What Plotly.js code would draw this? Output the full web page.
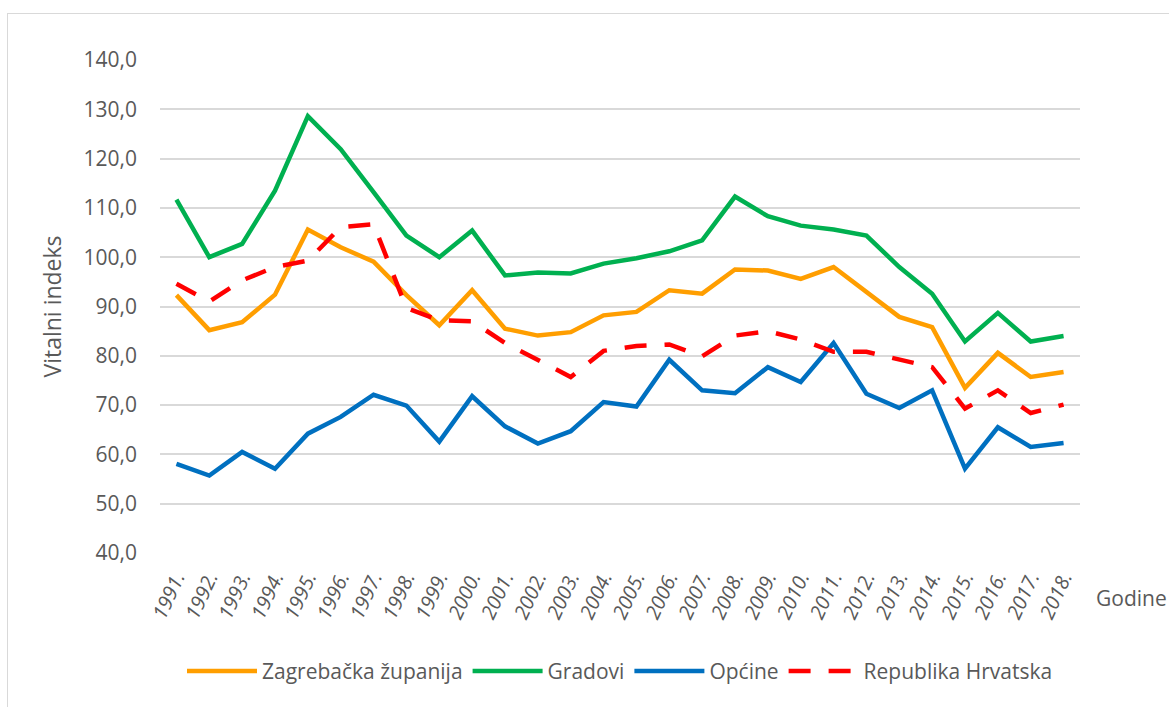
<!DOCTYPE html>
<html>
<head>
<meta charset="utf-8">
<script src="https://cdn.plot.ly/plotly-3.0.1.min.js"></script>
<style>
  html, body { margin: 0; padding: 0; background: #fff; }
  #frame { position: absolute; left: 7px; top: 13px; width: 1200px; height: 720px;
           border-left: 1.5px solid #d9d9d9; border-top: 1.5px solid #d9d9d9; pointer-events: none; }
  #chart { position: absolute; left: 0; top: 0; width: 1169px; height: 707px; }
</style>
</head>
<body>
<div id="chart"></div>
<div id="frame"></div>
<script>
const years = ["1991.","1992.","1993.","1994.","1995.","1996.","1997.","1998.","1999.","2000.",
  "2001.","2002.","2003.","2004.","2005.","2006.","2007.","2008.","2009.","2010.",
  "2011.","2012.","2013.","2014.","2015.","2016.","2017.","2018."];

const zagrebacka = [92.3,85.2,86.8,92.4,105.6,102.0,99.1,92.3,86.2,93.3,
  85.5,84.1,84.8,88.2,88.9,93.3,92.6,97.5,97.3,95.6,
  98.0,92.9,87.9,85.8,73.5,80.6,75.7,76.7];

const gradovi = [111.7,100.0,102.7,113.5,128.6,121.9,113.2,104.4,100.0,105.4,
  96.3,96.9,96.7,98.7,99.8,101.2,103.4,112.3,108.3,106.4,
  105.6,104.4,98.0,92.6,82.9,88.7,82.9,84.0];

const opcine = [58.1,55.7,60.5,57.1,64.2,67.6,72.1,69.9,62.6,71.8,
  65.7,62.2,64.7,70.6,69.7,79.2,73.0,72.4,77.7,74.7,
  82.6,72.3,69.4,73.0,57.1,65.5,61.5,62.3];

const hrvatska = [94.6,91.0,95.3,98.0,99.3,106.1,106.7,89.7,87.2,87.0,
  82.6,79.1,75.7,81.0,82.0,82.3,79.9,84.1,85.0,83.3,
  80.8,80.8,79.3,77.7,69.3,73.0,68.4,70.1];

const yTicks = [40,50,60,70,80,90,100,110,120,130,140];
const yTickText = yTicks.map(v => v.toFixed(1).replace('.', ','));

const font = "'Open Sans', 'Noto Sans', sans-serif";
const grey = '#595959';

const traces = [
  { name: 'Zagrebačka županija', y: zagrebacka, color: '#FF9E00', dash: 'solid' },
  { name: 'Gradovi', y: gradovi, color: '#00B050', dash: 'solid' },
  { name: 'Općine', y: opcine, color: '#0070C0', dash: 'solid' },
  { name: 'Republika Hrvatska', y: hrvatska, color: '#FF0000', dash: '22px,18px' }
].map(s => ({
  type: 'scatter', mode: 'lines', name: s.name, x: years, y: s.y,
  line: { color: s.color, width: 4.5, dash: s.dash },
  hoverinfo: 'x+y+name'
}));

const layout = {
  width: 1169, height: 707,
  margin: { l: 160, r: 89, t: 60, b: 154 },
  paper_bgcolor: '#ffffff', plot_bgcolor: '#ffffff',
  font: { family: font, color: grey, size: 21 },
  showlegend: true,
  legend: {
    orientation: 'h', x: 0.5, xanchor: 'center', y: -0.24, yanchor: 'middle',
    font: { family: font, size: 21, color: grey }, itemwidth: 70, traceorder: 'normal'
  },
  xaxis: {
    type: 'category', range: [-0.5, 27.5],
    showgrid: false, zeroline: false, showline: false, ticks: '',
    tickangle: -65, tickfont: { family: font, size: 20, color: grey, style: 'italic' },
    ticklabelstandoff: 8
  },
  yaxis: {
    range: [40, 140], tickvals: yTicks, ticktext: yTickText,
    showgrid: true, gridcolor: '#d9d9d9', gridwidth: 1.5, zeroline: false, showline: false,
    ticks: '', tickfont: { family: font, size: 21, color: grey }, ticklabelstandoff: 22,
    title: { text: 'Vitalni indeks', font: { family: font, size: 23, color: grey }, standoff: 15 }
  },
  annotations: [{
    text: 'Godine', xref: 'paper', yref: 'paper', x: (1094 - 160) / 920, y: -(598 - 553) / 493,
    xanchor: 'left', yanchor: 'middle', showarrow: false,
    font: { family: font, size: 21, color: grey }
  }]
};

Plotly.newPlot('chart', traces, layout, { displayModeBar: false, responsive: false });
</script>
</body>
</html>
